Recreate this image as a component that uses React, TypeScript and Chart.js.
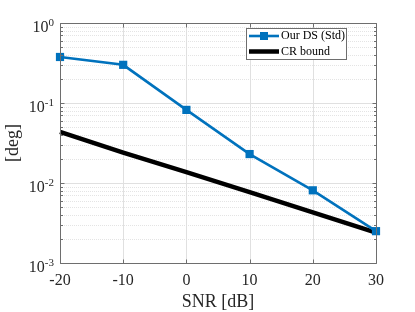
import React, { useEffect, useRef } from "react";
import { Chart, registerables } from "chart.js";

Chart.register(...registerables);

const snr = [-20, -10, 0, 10, 20, 30];
const ourDS = [0.376, 0.3, 0.082, 0.023, 0.0081, 0.0025];
const crBound = [0.0436, 0.024, 0.0137, 0.0077, 0.0043, 0.0024];

const xTicks = [-20, -10, 0, 10, 20, 30];
const yExponents = [0, -1, -2, -3];
const seriesNames = ["Our DS (Std)", "CR bound"];
const xTitle = "SNR [dB]";
const yTitle = "[deg]";

const BLUE = "#0072BD";
const AXIS = "#6e6e6e";
const FONT = "'Liberation Serif', 'Times New Roman', serif";

const matlabPlugin = {
  id: "matlabAxes",
  beforeDatasetsDraw(chart: any) {
    const { ctx, chartArea } = chart;
    const xs = chart.scales.x;
    const ys = chart.scales.y;
    const { left, right, top, bottom } = chartArea;
    ctx.save();
    ctx.strokeStyle = "#e4e4e4";
    ctx.lineWidth = 1;
    ctx.setLineDash([1, 1]);
    for (const e of yExponents) {
      if (e === 0) continue;
      for (let m = 2; m <= 9; m++) {
        const y = Math.round(ys.getPixelForValue(m * Math.pow(10, e))) + 0.5;
        ctx.beginPath();
        ctx.moveTo(left, y);
        ctx.lineTo(right, y);
        ctx.stroke();
      }
    }
    ctx.setLineDash([]);
    ctx.strokeStyle = "#e0e0e0";
    for (const e of yExponents) {
      const y = Math.round(ys.getPixelForValue(Math.pow(10, e))) + 0.5;
      ctx.beginPath();
      ctx.moveTo(left, y);
      ctx.lineTo(right, y);
      ctx.stroke();
    }
    for (const v of xTicks) {
      const x = Math.round(xs.getPixelForValue(v)) + 0.5;
      ctx.beginPath();
      ctx.moveTo(x, top);
      ctx.lineTo(x, bottom);
      ctx.stroke();
    }
    ctx.restore();
  },
  afterDatasetsDraw(chart: any) {
    const { ctx, chartArea } = chart;
    const xs = chart.scales.x;
    const ys = chart.scales.y;
    const { left, right, top, bottom } = chartArea;
    const L = Math.round(left) + 0.5;
    const R = Math.round(right) + 0.5;
    const T = Math.round(top) + 0.5;
    const B = Math.round(bottom) + 0.5;
    ctx.save();
    ctx.strokeStyle = AXIS;
    ctx.lineWidth = 1;
    ctx.beginPath();
    ctx.rect(L, T, R - L, B - T);
    ctx.stroke();
    for (const v of xTicks) {
      const x = Math.round(xs.getPixelForValue(v)) + 0.5;
      ctx.beginPath();
      ctx.moveTo(x, B);
      ctx.lineTo(x, B - 4);
      ctx.moveTo(x, T);
      ctx.lineTo(x, T + 4);
      ctx.stroke();
    }
    for (const e of yExponents) {
      const y = Math.round(ys.getPixelForValue(Math.pow(10, e))) + 0.5;
      ctx.beginPath();
      ctx.moveTo(L, y);
      ctx.lineTo(L + 4, y);
      ctx.moveTo(R, y);
      ctx.lineTo(R - 4, y);
      ctx.stroke();
      if (e === 0) continue;
      for (let m = 2; m <= 9; m++) {
        const ym = Math.round(ys.getPixelForValue(m * Math.pow(10, e))) + 0.5;
        ctx.beginPath();
        ctx.moveTo(L, ym);
        ctx.lineTo(L + 2.5, ym);
        ctx.moveTo(R, ym);
        ctx.lineTo(R - 2.5, ym);
        ctx.stroke();
      }
    }
    ctx.fillStyle = "#262626";
    ctx.font = `16px ${FONT}`;
    ctx.textAlign = "center";
    ctx.textBaseline = "alphabetic";
    for (const v of xTicks) {
      ctx.fillText(String(v), xs.getPixelForValue(v), bottom + 22);
    }
    for (const e of yExponents) {
      const y = ys.getPixelForValue(Math.pow(10, e));
      const rx = left - 6;
      ctx.font = `11px ${FONT}`;
      ctx.textAlign = "right";
      const es = String(e);
      const ew = ctx.measureText(es).width;
      ctx.fillText(es, rx, y + 3);
      ctx.font = `16px ${FONT}`;
      ctx.fillText("10", rx - ew, y + 9);
    }
    ctx.font = `18px ${FONT}`;
    ctx.textAlign = "center";
    ctx.fillText(xTitle, (left + right) / 2, 307);
    ctx.save();
    ctx.translate(18, (top + bottom) / 2);
    ctx.rotate(-Math.PI / 2);
    ctx.fillText(yTitle, 0, 0);
    ctx.restore();
    const lx = 246.5, ly = 28.5, lw = 100, lh = 31;
    ctx.fillStyle = "#ffffff";
    ctx.fillRect(lx, ly, lw, lh);
    ctx.strokeStyle = AXIS;
    ctx.lineWidth = 1;
    ctx.strokeRect(lx, ly, lw, lh);
    const rows = [36, 51.5];
    ctx.strokeStyle = BLUE;
    ctx.lineWidth = 2.6;
    ctx.beginPath();
    ctx.moveTo(249, rows[0]);
    ctx.lineTo(279, rows[0]);
    ctx.stroke();
    ctx.fillStyle = BLUE;
    ctx.fillRect(264 - 4, rows[0] - 4, 8, 8);
    ctx.strokeStyle = "#000000";
    ctx.lineWidth = 4.5;
    ctx.beginPath();
    ctx.moveTo(249, rows[1]);
    ctx.lineTo(279, rows[1]);
    ctx.stroke();
    ctx.fillStyle = "#000000";
    ctx.font = `12px ${FONT}`;
    ctx.textAlign = "left";
    ctx.textBaseline = "middle";
    ctx.fillText(seriesNames[0], 281, rows[0]);
    ctx.fillText(seriesNames[1], 281, rows[1]);
    ctx.restore();
  },
};

export default function App() {
  const ref = useRef<HTMLCanvasElement>(null);
  useEffect(() => {
    if (!ref.current) return;
    const chart = new Chart(ref.current, {
      type: "line",
      data: {
        labels: snr,
        datasets: [
          {
            label: seriesNames[0],
            data: snr.map((x, i) => ({ x, y: ourDS[i] })),
            borderColor: BLUE,
            backgroundColor: BLUE,
            borderWidth: 2.6,
            pointStyle: "rect",
            pointRadius: 5.8,
            pointBorderWidth: 0,
            clip: false,
          },
          {
            label: seriesNames[1],
            data: snr.map((x, i) => ({ x, y: crBound[i] })),
            borderColor: "#000000",
            backgroundColor: "#000000",
            borderWidth: 4.5,
            pointRadius: 0,
            clip: false,
          },
        ],
      },
      options: {
        animation: false,
        responsive: false,
        layout: { padding: { left: 60, right: 39, top: 23, bottom: 49 } },
        plugins: { legend: { display: false }, tooltip: { enabled: false } },
        scales: {
          x: { type: "linear", min: -20, max: 30, display: false },
          y: { type: "logarithmic", min: 0.001, max: 1, display: false },
        },
      },
      plugins: [matlabPlugin],
    });
    return () => chart.destroy();
  }, []);
  return (
    <div style={{ position: "absolute", left: 0, top: 0, width: 415, height: 312, background: "#fff" }}>
      <canvas ref={ref} width={415} height={312} style={{ display: "block" }} />
    </div>
  );
}
